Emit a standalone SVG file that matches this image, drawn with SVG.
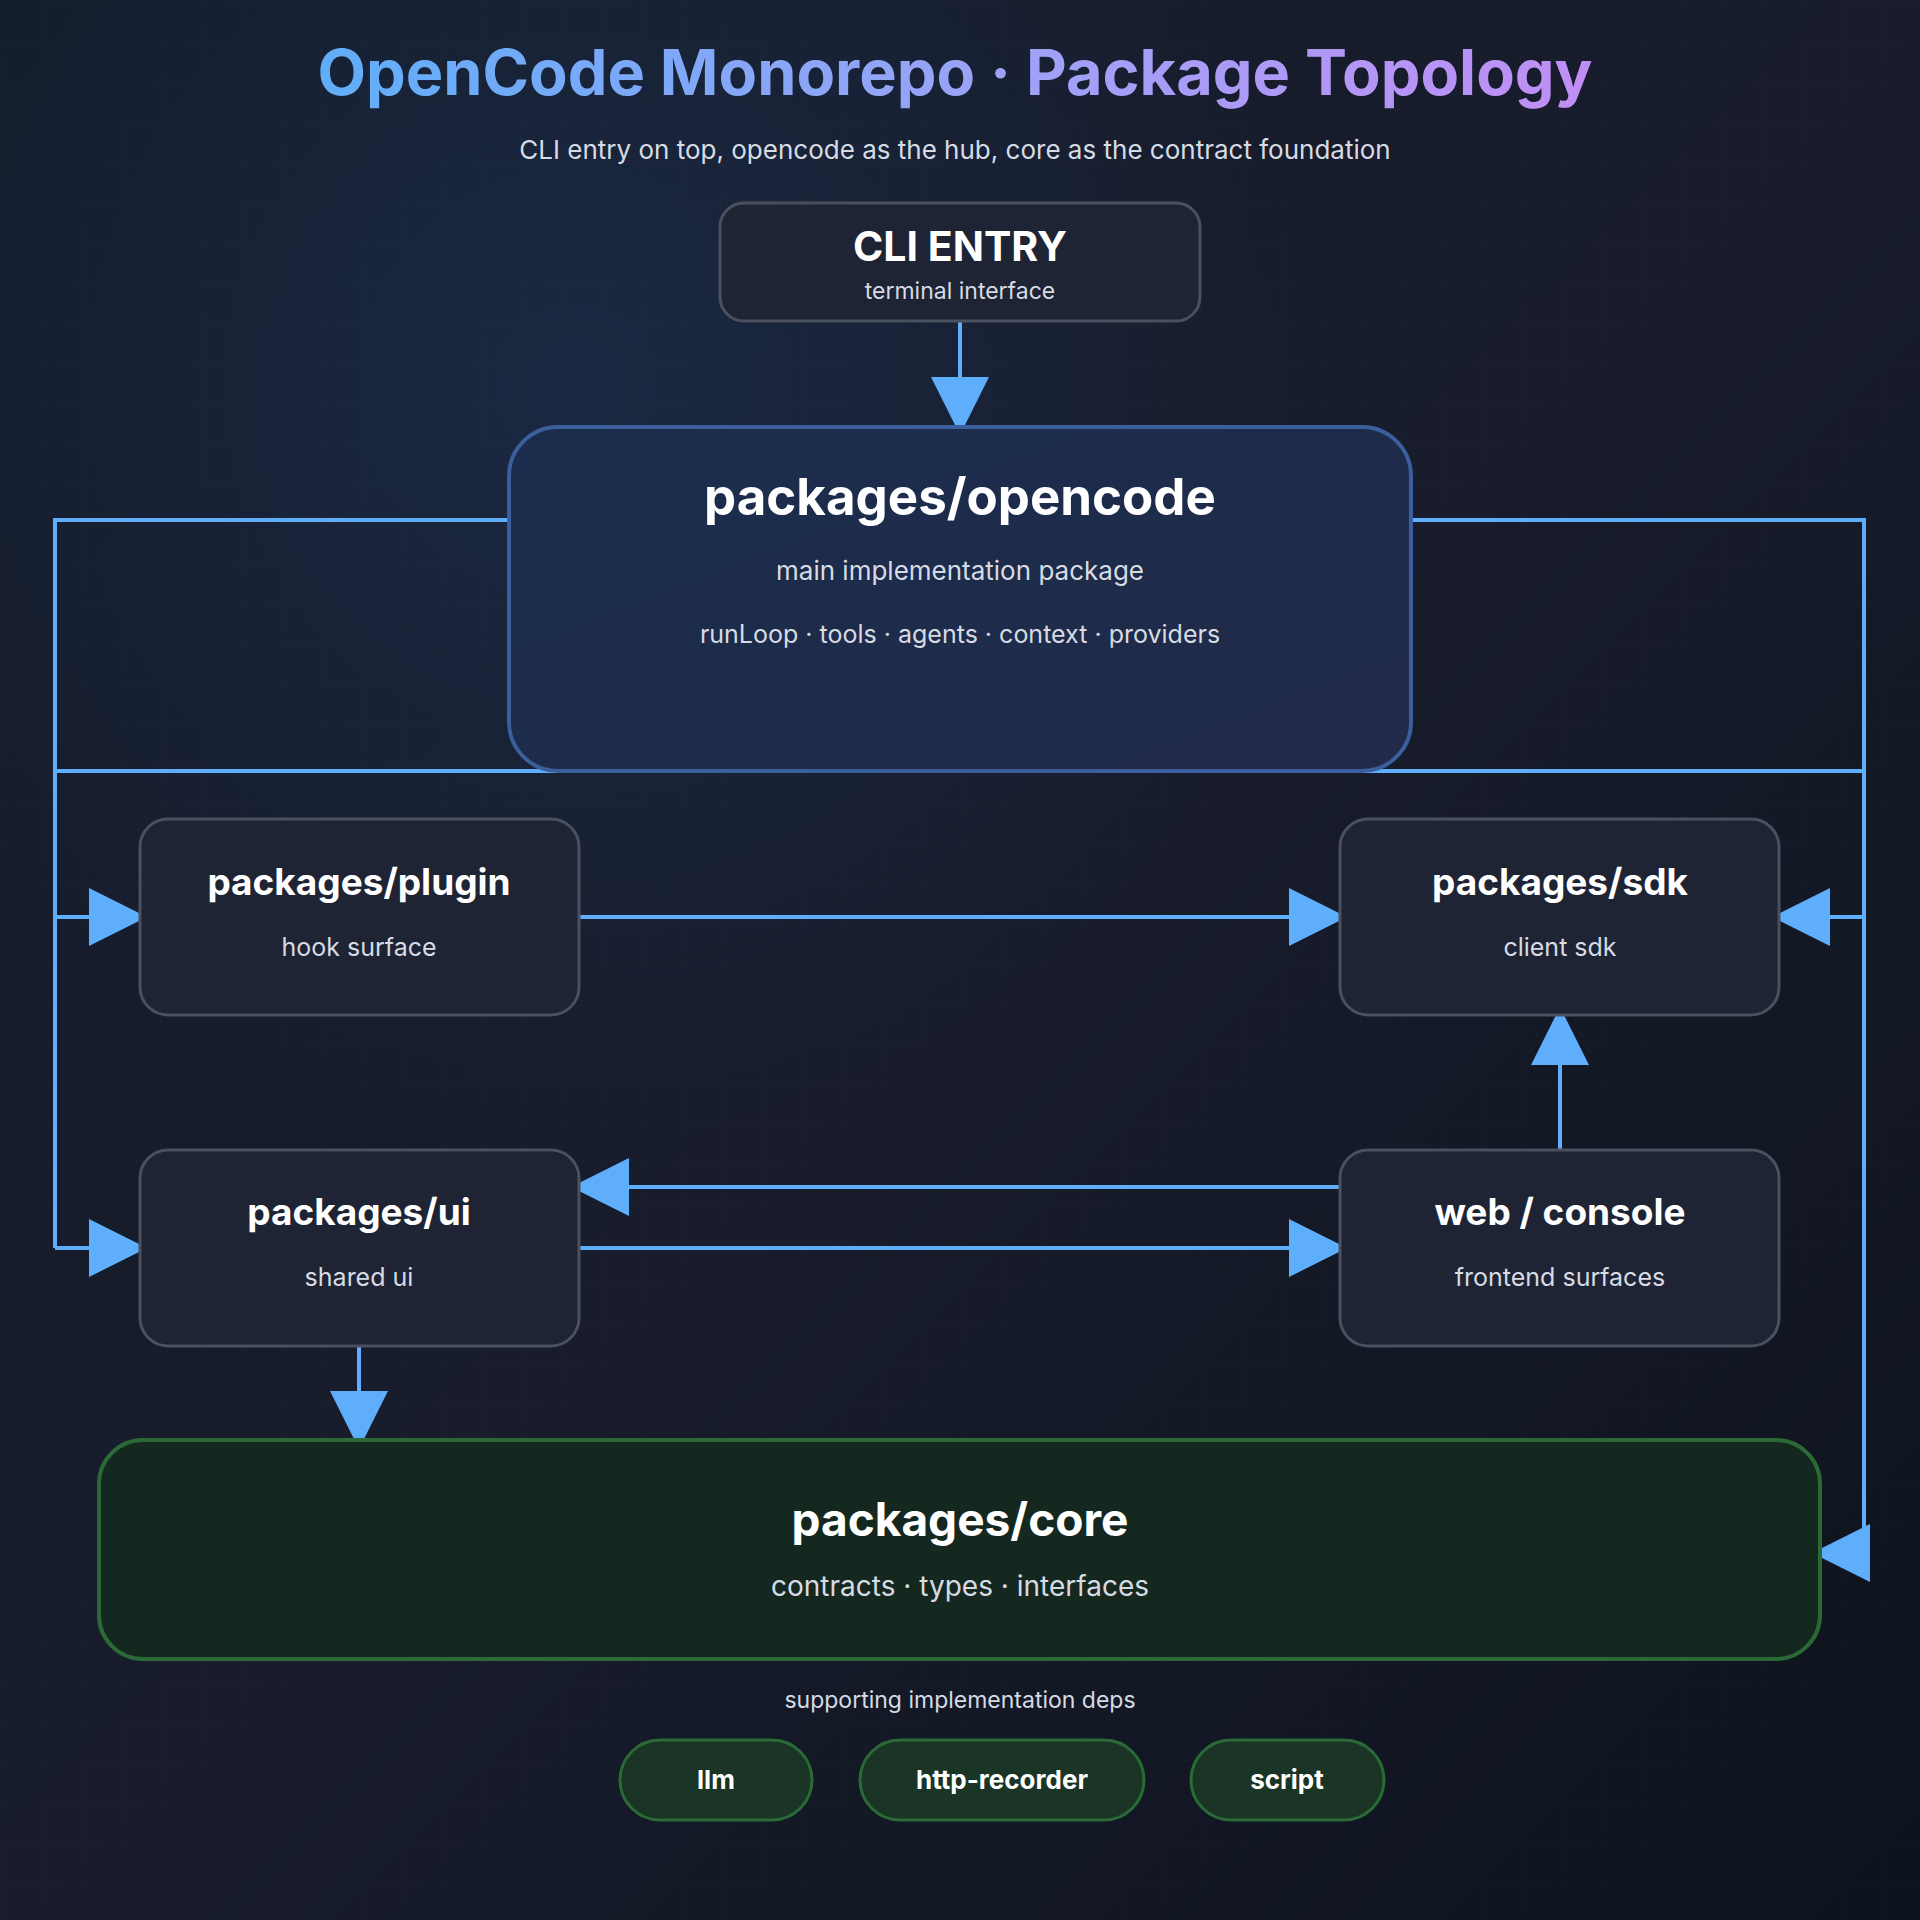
<svg xmlns="http://www.w3.org/2000/svg" width="1920" height="1920" viewBox="0 0 1920 1920">
<defs>
<linearGradient id="bg" x1="0" y1="0" x2="1" y2="1"><stop offset="0" stop-color="#141c2b"/><stop offset="0.5" stop-color="#181c2c"/><stop offset="1" stop-color="#0d131c"/></linearGradient>
<radialGradient id="glow1" cx="0.3" cy="0.2" r="0.4"><stop offset="0" stop-color="#1d3050" stop-opacity="0.6"/><stop offset="1" stop-color="#1d3050" stop-opacity="0"/></radialGradient>
<linearGradient id="tg" x1="0" y1="0" x2="1" y2="0"><stop offset="0" stop-color="#60aef8"/><stop offset="0.55" stop-color="#9ea2f7"/><stop offset="1" stop-color="#c08ef5"/></linearGradient>
<linearGradient id="hub" x1="0" y1="0" x2="1" y2="1"><stop offset="0" stop-color="#1b2d4d"/><stop offset="1" stop-color="#212a48"/></linearGradient>
<pattern id="grid" width="40" height="40" patternUnits="userSpaceOnUse"><path d="M40 0H0V40" fill="none" stroke="#ffffff" stroke-opacity="0.025"/></pattern>
<marker id="ah" markerWidth="58" markerHeight="58" refX="58" refY="29" orient="auto" markerUnits="userSpaceOnUse"><path d="M0 0L58 29L0 58Z" fill="#5eaefc"/></marker>
</defs>
<style>
.box{fill:#1e2433;stroke:#4a5060;stroke-width:3}
.t{font-family:Inter,"Liberation Sans",sans-serif;fill:#fff;font-weight:700;text-anchor:middle}
.s{font-family:Inter,"Liberation Sans",sans-serif;fill:#d6dbe4;text-anchor:middle}
.c{fill:none;stroke:#5eaefc;stroke-width:4}
.a{marker-end:url(#ah)}
.pill{fill:#1a3526;stroke:#2b6a37;stroke-width:3}
</style>
<rect width="1920" height="1920" fill="url(#bg)"/>
<rect width="1920" height="1920" fill="url(#glow1)"/>
<rect width="1920" height="1920" fill="url(#grid)"/>
<text x="955" y="95" class="t" font-size="63" style="fill:url(#tg)">OpenCode Monorepo · Package Topology</text>
<text x="955" y="159" class="s" font-size="26">CLI entry on top, opencode as the hub, core as the contract foundation</text>
<g id="connectors">
<path class="c a" d="M960 321V435"/>
<path class="c" d="M509 520H55V1248"/>
<path class="c" d="M55 771H637M1283 771H1864"/>
<path class="c" d="M1411 520H1864V1553"/>
<path class="c a" d="M1864 1553H1812"/>
<path class="c a" d="M55 917H147"/>
<path class="c a" d="M55 1248H147"/>
<path class="c a" d="M579 917H1347"/>
<path class="c a" d="M1864 917H1772"/>
<path class="c a" d="M1560 1150V1007"/>
<path class="c a" d="M1340 1187H571"/>
<path class="c a" d="M579 1248H1347"/>
<path class="c a" d="M359 1346V1449"/>
</g>
<g id="cli"><rect class="box" x="720" y="203" width="480" height="118" rx="24"/><text class="t" x="960" y="261" font-size="41">CLI ENTRY</text><text class="s" x="960" y="299" font-size="23">terminal interface</text></g>
<g id="opencode"><rect x="509" y="427" width="902" height="344" rx="49" fill="url(#hub)" stroke="#3b5e9c" stroke-width="4"/><text class="t" x="960" y="515" font-size="51">packages/opencode</text><text class="s" x="960" y="580" font-size="26">main implementation package</text><text class="s" x="960" y="643" font-size="25">runLoop · tools · agents · context · providers</text></g>
<g id="plugin"><rect class="box" x="140" y="819" width="439" height="196" rx="28"/><text class="t" x="359" y="895" font-size="37">packages/plugin</text><text class="s" x="359" y="956" font-size="25">hook surface</text></g>
<g id="sdk"><rect class="box" x="1340" y="819" width="439" height="196" rx="28"/><text class="t" x="1560" y="895" font-size="37">packages/sdk</text><text class="s" x="1560" y="956" font-size="25">client sdk</text></g>
<g id="ui"><rect class="box" x="140" y="1150" width="439" height="196" rx="28"/><text class="t" x="359" y="1225" font-size="37">packages/ui</text><text class="s" x="359" y="1286" font-size="25">shared ui</text></g>
<g id="web"><rect class="box" x="1340" y="1150" width="439" height="196" rx="28"/><text class="t" x="1560" y="1225" font-size="37">web / console</text><text class="s" x="1560" y="1286" font-size="25">frontend surfaces</text></g>
<g id="core"><rect x="99" y="1440" width="1721" height="219" rx="44" fill="#15281f" stroke="#2b6a37" stroke-width="4"/><text class="t" x="960" y="1536" font-size="46">packages/core</text><text class="s" x="960" y="1596" font-size="28">contracts · types · interfaces</text></g>
<text class="s" x="960" y="1708" font-size="23">supporting implementation deps</text>
<g id="llm"><rect class="pill" x="620" y="1740" width="192" height="80" rx="40"/><text class="t" x="716" y="1789" font-size="26">llm</text></g>
<g id="http-recorder"><rect class="pill" x="860" y="1740" width="284" height="80" rx="40"/><text class="t" x="1002" y="1789" font-size="26">http-recorder</text></g>
<g id="script"><rect class="pill" x="1191" y="1740" width="193" height="80" rx="40"/><text class="t" x="1287" y="1789" font-size="26">script</text></g>
</svg>
